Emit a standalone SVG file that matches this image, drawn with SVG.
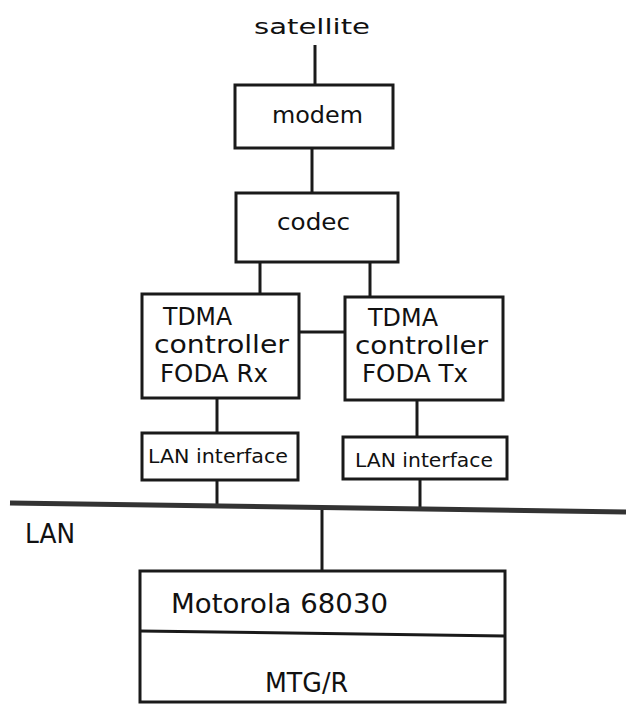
<svg xmlns="http://www.w3.org/2000/svg" width="626" height="704" viewBox="0 0 626 704">
<style>
.box{fill:#fff;stroke:#1a1a1a;stroke-width:3}
.ln{stroke:#1a1a1a;stroke-width:3;fill:none}
text{font-family:"DejaVu Sans","Liberation Sans",sans-serif;fill:#111}
</style>
<rect width="626" height="704" fill="#fff"/>
<g id="connectors">
<line class="ln" x1="315" y1="45" x2="315" y2="85"/>
<line class="ln" x1="312" y1="148" x2="312" y2="193"/>
<line class="ln" x1="260" y1="262" x2="260" y2="294"/>
<line class="ln" x1="370" y1="262" x2="370" y2="297"/>
<line class="ln" x1="299" y1="332" x2="345" y2="332"/>
<line class="ln" x1="217" y1="398" x2="217" y2="433"/>
<line class="ln" x1="417" y1="400" x2="417" y2="437"/>
<line class="ln" x1="217" y1="480" x2="217" y2="505"/>
<line class="ln" x1="420" y1="479" x2="420" y2="508"/>
<line class="ln" x1="322" y1="510" x2="322" y2="571"/>
</g>
<g id="satellite"><text x="254" y="34" font-size="21" textLength="116" lengthAdjust="spacingAndGlyphs">satellite</text></g>
<g id="modem"><rect class="box" x="235" y="85" width="158" height="63"/><text x="272" y="123" font-size="23" textLength="91" lengthAdjust="spacingAndGlyphs">modem</text></g>
<g id="codec"><rect class="box" x="236" y="193" width="162" height="69"/><text x="277" y="230" font-size="23" textLength="73" lengthAdjust="spacingAndGlyphs">codec</text></g>
<g id="tdma-rx"><rect class="box" x="142" y="294" width="157" height="104"/>
<text x="163" y="325" font-size="24" textLength="69" lengthAdjust="spacingAndGlyphs">TDMA</text>
<text x="154" y="353" font-size="24" textLength="135" lengthAdjust="spacingAndGlyphs">controller</text>
<text x="160" y="382" font-size="24" textLength="108" lengthAdjust="spacingAndGlyphs">FODA Rx</text></g>
<g id="tdma-tx"><rect class="box" x="345" y="297" width="158" height="103"/>
<text x="368" y="326" font-size="24" textLength="70" lengthAdjust="spacingAndGlyphs">TDMA</text>
<text x="355" y="354" font-size="24" textLength="133" lengthAdjust="spacingAndGlyphs">controller</text>
<text x="362" y="382" font-size="24" textLength="106" lengthAdjust="spacingAndGlyphs">FODA Tx</text></g>
<g id="lan-if-rx"><rect class="box" x="142" y="433" width="156" height="47"/><text x="148" y="463" font-size="20" textLength="140" lengthAdjust="spacingAndGlyphs">LAN interface</text></g>
<g id="lan-if-tx"><rect class="box" x="343" y="437" width="164" height="42"/><text x="355" y="467" font-size="20" textLength="138" lengthAdjust="spacingAndGlyphs">LAN interface</text></g>
<g id="lan"><line x1="10" y1="503" x2="626" y2="512" stroke="#333" stroke-width="5"/>
<text x="25" y="543" font-size="27" textLength="50" lengthAdjust="spacingAndGlyphs">LAN</text></g>
<g id="motorola"><rect class="box" x="140" y="571" width="365" height="131"/>
<line class="ln" x1="140" y1="631" x2="505" y2="636"/>
<text x="171" y="613" font-size="27" textLength="217" lengthAdjust="spacingAndGlyphs">Motorola 68030</text>
<text x="265" y="692" font-size="27" textLength="83" lengthAdjust="spacingAndGlyphs">MTG/R</text></g>
</svg>
